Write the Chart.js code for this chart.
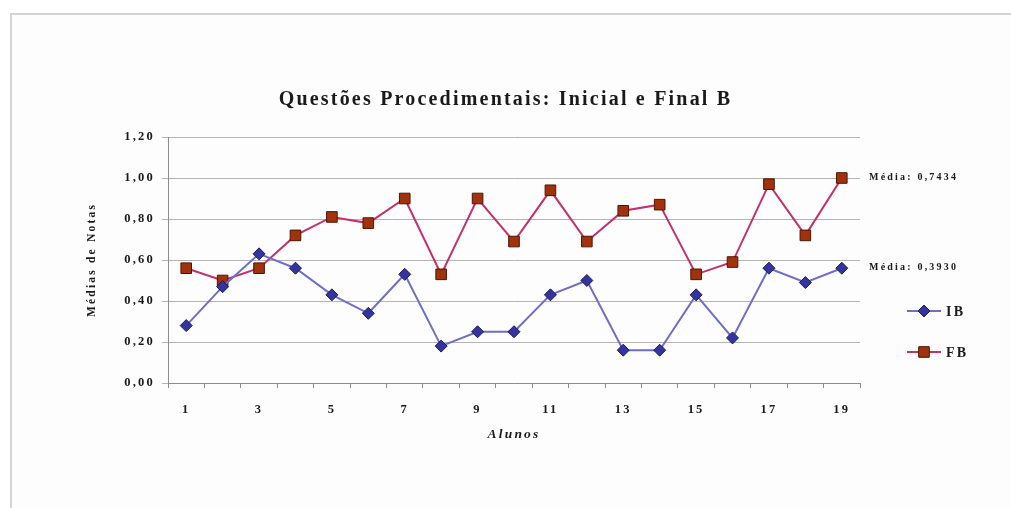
<!DOCTYPE html>
<html lang="pt">
<head>
    <meta charset="UTF-8">
    <title>Questões Procedimentais: Inicial e Final B</title>
    <script src="https://cdn.jsdelivr.net/npm/chart.js"></script>
    <style>
        body { margin: 0; background: #fff; }
        #wrap { position: relative; width: 1011px; height: 508px; }
        #frame {
            position: absolute; left: 10px; top: 13px; right: 0; bottom: 0;
            border-top: 2px solid #d4d4d4; border-left: 2px solid #d4d4d4;
            background: #fdfdfd;
        }
        canvas { position: absolute; left: 0; top: 0; }
    </style>
</head>
<body>
    <div id="wrap">
        <div id="frame"></div>
        <canvas id="notasChart" width="1011" height="508"></canvas>
    </div>

    <script>
        // data
        const alunos = ['1', '2', '3', '4', '5', '6', '7', '8', '9', '10',
                        '11', '12', '13', '14', '15', '16', '17', '18', '19'];
        const ibValues = [0.28, 0.47, 0.63, 0.56, 0.43, 0.34, 0.53, 0.18, 0.25, 0.25,
                          0.43, 0.50, 0.16, 0.16, 0.43, 0.22, 0.56, 0.49, 0.56];
        const fbValues = [0.56, 0.50, 0.56, 0.72, 0.81, 0.78, 0.90, 0.53, 0.90, 0.69,
                          0.94, 0.69, 0.84, 0.87, 0.53, 0.59, 0.97, 0.72, 1.00];
        const yTickLabels = ['0,00', '0,20', '0,40', '0,60', '0,80', '1,00', '1,20'];
        const seriesNames = ['IB', 'FB'];
        const mediaLabels = ['Média: 0,3930', 'Média: 0,7434'];

        const serif = "'Liberation Serif', 'Times New Roman', serif";
        const textColor = '#1a1a1a';

        // the original picture is stretched sideways, so space the letters out
        const spacingPlugin = {
            id: 'spacing',
            beforeLayout(chart) { chart.ctx.letterSpacing = '2.2px'; },
            beforeDraw(chart) { chart.ctx.letterSpacing = '2.2px'; }
        };

        // "Média" labels next to the last point of each line
        const mediaPlugin = {
            id: 'media',
            afterDatasetsDraw(chart) {
                const ctx = chart.ctx;
                ctx.save();
                ctx.font = 'bold 10px ' + serif;
                ctx.fillStyle = textColor;
                ctx.textBaseline = 'middle';
                ctx.textAlign = 'left';
                chart.data.datasets.forEach((ds, i) => {
                    const pts = chart.getDatasetMeta(i).data;
                    const last = pts[pts.length - 1];
                    ctx.fillText(mediaLabels[i], chart.chartArea.right + 9, last.y - 1);
                });
                ctx.restore();
            }
        };

        // legend on the right, Excel style
        const legendPlugin = {
            id: 'sideLegend',
            afterDraw(chart) {
                const ctx = chart.ctx;
                const area = chart.chartArea;
                ctx.save();
                chart.data.datasets.forEach((ds, i) => {
                    const y = area.top + 174 + i * 41;
                    const x0 = area.right + 47;
                    ctx.strokeStyle = ds.borderColor;
                    ctx.lineWidth = 2;
                    ctx.beginPath();
                    ctx.moveTo(x0, y);
                    ctx.lineTo(x0 + 34, y);
                    ctx.stroke();
                    ctx.fillStyle = ds.pointBackgroundColor;
                    ctx.strokeStyle = ds.pointBorderColor;
                    ctx.lineWidth = 1;
                    Chart.helpers.drawPoint(ctx, {
                        pointStyle: ds.pointStyle,
                        radius: ds.pointRadius,
                        rotation: 0,
                        borderWidth: 1
                    }, x0 + 17, y);
                    ctx.font = 'bold 14px ' + serif;
                    ctx.fillStyle = textColor;
                    ctx.textBaseline = 'middle';
                    ctx.fillText(ds.label, x0 + 39, y + 1);
                });
                ctx.restore();
            }
        };

        const ctx = document.getElementById('notasChart').getContext('2d');
        new Chart(ctx, {
            type: 'line',
            data: {
                labels: alunos,
                datasets: [
                    {
                        label: seriesNames[0],
                        data: ibValues,
                        borderColor: '#6e6ec8',
                        borderWidth: 2,
                        pointStyle: 'rectRot',
                        pointRadius: 6,
                        pointBackgroundColor: '#34349e',
                        pointBorderColor: '#1c1c5c',
                        pointBorderWidth: 1,
                        tension: 0,
                        fill: false
                    },
                    {
                        label: seriesNames[1],
                        data: fbValues,
                        borderColor: '#c4306a',
                        borderWidth: 2,
                        pointStyle: 'rect',
                        pointRadius: 7.5,
                        pointBackgroundColor: '#a2320c',
                        pointBorderColor: '#4a1604',
                        pointBorderWidth: 1,
                        tension: 0,
                        fill: false
                    }
                ]
            },
            options: {
                responsive: false,
                animation: false,
                layout: {
                    padding: { left: 0, right: 0, top: 80, bottom: 65 }
                },
                plugins: {
                    legend: { display: false },
                    tooltip: { enabled: false },
                    title: {
                        display: true,
                        text: 'Questões Procedimentais: Inicial e Final B',
                        color: textColor,
                        font: { family: serif, size: 20, weight: 'bold', lineHeight: 1.1 },
                        padding: { top: 9, bottom: 26 }
                    }
                },
                scales: {
                    x: {
                        offset: true,
                        afterFit(scale) { scale.height = 60; },
                        border: { color: '#8c8c8c' },
                        grid: {
                            drawOnChartArea: false,
                            offset: true,
                            tickLength: 5,
                            color: '#8c8c8c'
                        },
                        ticks: {
                            autoSkip: false,
                            maxRotation: 0,
                            padding: 14,
                            color: textColor,
                            font: { family: serif, size: 12.5, weight: 'bold' },
                            callback: (val, i) => (i % 2 === 0 ? alunos[i] : '')
                        },
                        title: {
                            display: true,
                            text: 'Alunos',
                            color: textColor,
                            padding: 0,
                            font: { family: serif, size: 13.5, weight: 'bold', style: 'italic' }
                        }
                    },
                    y: {
                        min: 0,
                        max: 1.2,
                        afterFit(scale) { scale.width = 168; },
                        border: { color: '#8c8c8c' },
                        grid: {
                            color: '#b4b4b4',
                            tickLength: 6
                        },
                        ticks: {
                            stepSize: 0.2,
                            padding: 7,
                            color: textColor,
                            font: { family: serif, size: 12.5, weight: 'bold' },
                            callback: (val, i) => yTickLabels[i]
                        },
                        title: {
                            display: true,
                            text: 'Médias de Notas',
                            color: textColor,
                            padding: { top: 85, bottom: 0 },
                            font: { family: serif, size: 11.5, weight: 'bold' }
                        }
                    },
                    // empty right-hand axis that keeps room for the legend and "Média" notes
                    side: {
                        position: 'right',
                        afterFit(scale) { scale.width = 151; },
                        grid: { display: false },
                        border: { display: false },
                        ticks: { display: false }
                    }
                }
            },
            plugins: [spacingPlugin, mediaPlugin, legendPlugin]
        });
    </script>
</body>
</html>
